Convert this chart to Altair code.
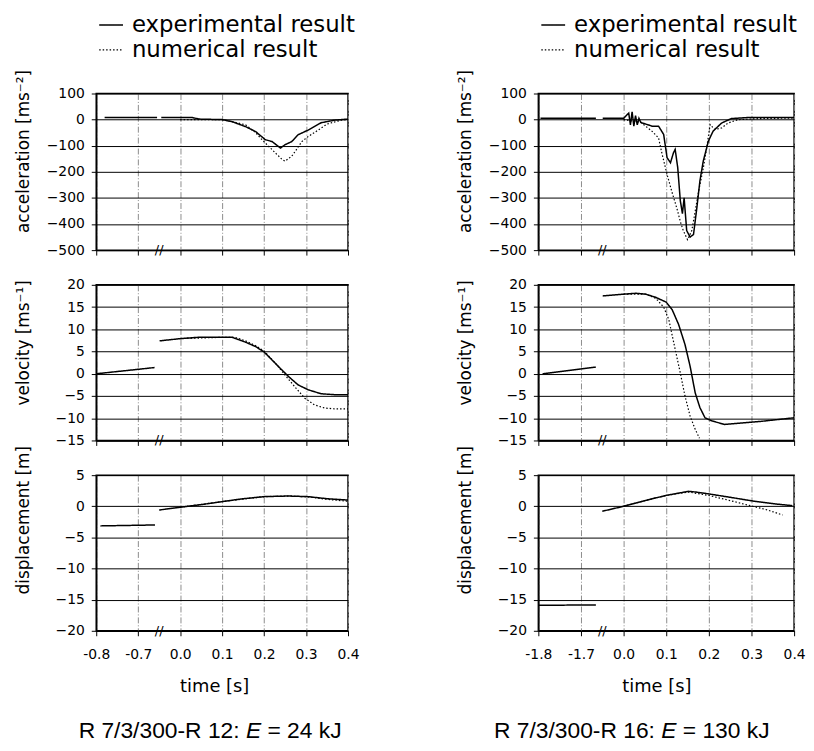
import json
import altair as alt
import pandas as pd

SERIES = ["experimental result", "numerical result"]
L_XLABELS = ["-0.8", "-0.7", "0.0", "0.1", "0.2", "0.3", "0.4"]
R_XLABELS = ["-1.8", "-1.7", "0.0", "0.1", "0.2", "0.3", "0.4"]
ACC_TICKS = [100, 0, -100, -200, -300, -400, -500]
VEL_TICKS = [20, 15, 10, 5, 0, -5, -10, -15]
DIS_TICKS = [5, 0, -5, -10, -15, -20]

# ---------------- R 7/3/300-R 12 (left column) ----------------
L_PRE_START = -0.8
# acceleration
L_ACC_EXP_PRE_T = [-0.78, -0.655]
L_ACC_EXP_PRE_V = [8, 8]
L_ACC_EXP_T = [-0.045, 0.0, 0.029, 0.045, 0.1, 0.124, 0.156, 0.18, 0.203, 0.219, 0.239,
               0.25, 0.266, 0.281, 0.305, 0.336, 0.368, 0.4]
L_ACC_EXP_V = [8, 8, 8, 2, 0, -8, -27, -46, -77, -84, -109, -96, -84, -58, -40, -12, -2, 2]
L_ACC_NUM_T = [0.0, 0.1, 0.13, 0.156, 0.18, 0.195, 0.219, 0.243, 0.25, 0.266, 0.277, 0.29,
               0.305, 0.329, 0.35, 0.384, 0.4]
L_ACC_NUM_V = [0, 0, -10, -20, -50, -77, -115, -153, -159, -140, -115, -84, -65, -40, -17, -2, 0]
# velocity
L_VEL_EXP_PRE_T = [-0.8, -0.73, -0.661]
L_VEL_EXP_PRE_V = [0.0, 0.7, 1.4]
L_VEL_EXP_T = [-0.049, 0.0, 0.043, 0.1, 0.124, 0.156, 0.18, 0.2, 0.222, 0.242, 0.258, 0.281,
               0.305, 0.336, 0.368, 0.4]
L_VEL_EXP_V = [7.4, 7.9, 8.2, 8.2, 8.2, 7.1, 6.1, 4.9, 2.8, 0.9, -0.6, -2.5, -3.6, -4.5, -4.7, -4.7]
L_VEL_NUM_T = [0.0, 0.1, 0.13, 0.156, 0.18, 0.2, 0.226, 0.25, 0.273, 0.297, 0.32, 0.344, 0.368, 0.4]
L_VEL_NUM_V = [7.9, 8.2, 8.2, 7.4, 6.3, 5.1, 2.5, -0.3, -2.9, -5.5, -7.0, -7.7, -7.9, -7.9]
# displacement
L_DIS_EXP_PRE_T = [-0.79, -0.66]
L_DIS_EXP_PRE_V = [-3.15, -3.0]
L_DIS_EXP_T = [-0.05, 0.0, 0.043, 0.1, 0.148, 0.2, 0.258, 0.305, 0.352, 0.4]
L_DIS_EXP_V = [-0.6, -0.15, 0.2, 0.75, 1.2, 1.55, 1.65, 1.55, 1.2, 1.0]
L_DIS_NUM_T = [0.0, 0.1, 0.2, 0.258, 0.305, 0.352, 0.4]
L_DIS_NUM_V = [-0.15, 0.75, 1.55, 1.65, 1.5, 1.1, 0.8]

# ---------------- R 7/3/300-R 16 (right column) ----------------
R_PRE_START = -1.8
R_ACC_EXP_PRE_T = [-1.795, -1.665]
R_ACC_EXP_PRE_V = [5, 5]
R_ACC_EXP_T = [-0.049, 0.0, 0.012, 0.016, 0.02, 0.024, 0.028, 0.032, 0.036, 0.04, 0.044, 0.067,
               0.082, 0.094, 0.102, 0.11, 0.117, 0.121, 0.127, 0.133, 0.138, 0.142, 0.148, 0.156,
               0.164, 0.172, 0.179, 0.187, 0.199, 0.21, 0.23, 0.253, 0.292, 0.4]
R_ACC_EXP_V = [5, 5, 25, -20, 30, -25, 15, -20, 5, -10, -13, -25, -25, -57, -146, -165, -127,
               -114, -184, -310, -360, -300, -425, -450, -440, -336, -235, -158, -82, -44, -13,
               4, 8, 8]
R_ACC_NUM_T = [0.0, 0.04, 0.067, 0.082, 0.09, 0.102, 0.113, 0.125, 0.133, 0.14, 0.15, 0.16,
               0.167, 0.176, 0.187, 0.195, 0.203, 0.214, 0.23, 0.245, 0.268, 0.32, 0.4]
R_ACC_NUM_V = [0, -10, -45, -70, -130, -210, -275, -340, -390, -425, -460, -425, -360, -275,
               -185, -108, -19, -38, -32, -13, 0, 4, 6]
R_VEL_EXP_PRE_T = [-1.79, -1.665]
R_VEL_EXP_PRE_V = [0.0, 1.5]
R_VEL_EXP_T = [-0.049, 0.0, 0.028, 0.052, 0.075, 0.1, 0.114, 0.129, 0.144, 0.156, 0.168, 0.179,
               0.191, 0.207, 0.237, 0.261, 0.323, 0.4]
R_VEL_EXP_V = [17.5, 17.9, 18.1, 17.9, 17.2, 16.1, 14.4, 11.1, 6.6, 1.7, -4.3, -7.6, -9.9,
               -10.6, -11.4, -11.2, -10.7, -9.9]
R_VEL_NUM_T = [0.0, 0.052, 0.075, 0.094, 0.106, 0.121, 0.133, 0.144, 0.156, 0.168, 0.178]
R_VEL_NUM_V = [17.9, 17.9, 17.0, 15.0, 12.2, 5.5, 0.2, -5.0, -9.5, -12.5, -14.5]
R_DIS_EXP_PRE_T = [-1.8, -1.665]
R_DIS_EXP_PRE_V = [-15.9, -15.85]
R_DIS_EXP_T = [-0.05, 0.0, 0.052, 0.1, 0.152, 0.168, 0.199, 0.245, 0.303, 0.353, 0.396]
R_DIS_EXP_V = [-0.8, 0.0, 0.95, 1.75, 2.4, 2.3, 2.0, 1.5, 0.85, 0.4, 0.1]
R_DIS_NUM_T = [0.0, 0.052, 0.1, 0.152, 0.199, 0.245, 0.303, 0.338, 0.373]
R_DIS_NUM_V = [0.0, 0.95, 1.75, 2.3, 1.75, 1.0, 0.0, -0.6, -1.4]

L_CAPTION = ["R 7/3/300-R 12:", "E", "= 24 kJ"]
R_CAPTION = ["R 7/3/300-R 16:", "E", "= 130 kJ"]

FONT = "DejaVu Sans"


def build_frame(pre_start, exp_pre_t, exp_pre_v, exp_t, exp_v, num_t, num_v):
    """Broken time axis: pre-impact part mapped to units 0-1.x, impact part to 2-6."""
    def pos(t):
        return (t - pre_start) * 10 if t < -0.5 else 2 + t * 10

    rows = []
    for seg, ser, ts, vs in [("exp_pre", SERIES[0], exp_pre_t, exp_pre_v),
                             ("exp", SERIES[0], exp_t, exp_v),
                             ("num", SERIES[1], num_t, num_v)]:
        for t, v in zip(ts, vs):
            rows.append({"pos": pos(t), "v": v, "series": ser, "seg": seg})
    return pd.DataFrame(rows)


def panel(df, yticks, ytitle, title_y, xlabels, width, height, bottom, legend, caption=None,
          cap_x=0):
    lo, hi = min(yticks), max(yticks)
    xaxis_kw = dict(values=list(range(7)), tickCount=7,
                    labelExpr=json.dumps(xlabels) + "[datum.value]",
                    labels=bottom, grid=True, gridColor="#8c8c8c", gridDash=[6, 2, 1, 2],
                    gridWidth=1, tickSize=5, tickColor="black", domainColor="black",
                    domainWidth=1.5, labelFont=FONT, labelFontSize=14, labelColor="black",
                    labelPadding=12, labelOverlap=False, labelFlush=False)
    if bottom:
        xaxis_kw.update(title="time [s]", titleFont=FONT, titleFontSize=18,
                        titleFontWeight="normal", titleColor="black", titleX=119, titleY=56,
                        titleBaseline="middle")
    else:
        xaxis_kw.update(title=None)
    yaxis = alt.Axis(values=yticks, tickCount=len(yticks), grid=True, gridColor="black",
                     gridWidth=1, tickSize=5,
                     tickColor="black", domainColor="black", domainWidth=1.5, labelFont=FONT,
                     labelFontSize=14, labelColor="black", labelPadding=7, labelOverlap=False,
                     labelFlush=False, title=ytitle,
                     titleFont=FONT, titleFontSize=17, titleFontWeight="normal",
                     titleColor="black", titleX=-73, titleY=title_y, titleBaseline="middle")
    dash_kw = dict(scale=alt.Scale(domain=SERIES, range=[[1, 0], [1.5, 2]]))
    if legend:
        dash_kw["legend"] = alt.Legend(orient="none", legendX=2, legendY=-82, title=None,
                                       labelFont=FONT, labelFontSize=23, labelColor="black",
                                       labelLimit=0, symbolType="stroke", symbolSize=576,
                                       symbolStrokeWidth=1.5, symbolStrokeColor="black",
                                       labelOffset=8, rowPadding=0, padding=0)
    else:
        dash_kw["legend"] = None
    lines = alt.Chart(df).mark_line(color="black", clip=True).encode(
        x=alt.X("pos:Q", scale=alt.Scale(domain=[0, 6], nice=False, zero=False),
                axis=alt.Axis(**xaxis_kw)),
        y=alt.Y("v:Q", scale=alt.Scale(domain=[lo, hi], nice=False, zero=False), axis=yaxis),
        strokeDash=alt.StrokeDash("series:N", **dash_kw),
        strokeWidth=alt.StrokeWidth("series:N",
                                    scale=alt.Scale(domain=SERIES, range=[1.5, 1.2]),
                                    legend=None),
        detail="seg:N",
    )
    brk = alt.Chart(pd.DataFrame({"mark": ["//"]})).mark_text(
        font=FONT, fontSize=13, color="black", baseline="middle"
    ).encode(x=alt.datum(1.5), y=alt.datum(lo), text="mark:N")
    layers = [lines, brk]
    if caption is not None:
        cap_y = 265
        parts = [
            (caption[0], "right", "normal", cap_x - 6.4),
            (caption[1], "left", "italic", cap_x),
            (caption[2], "left", "normal", cap_x + 15.3 + 6.4),
        ]
        for txt, align, style, xx in parts:
            layers.append(
                alt.Chart(pd.DataFrame({"cap": [txt]})).mark_text(
                    font="Liberation Sans", fontSize=23, color="black", align=align,
                    baseline="alphabetic", fontStyle=style
                ).encode(x=alt.value(xx), y=alt.value(cap_y), text="cap:N")
            )
    return alt.layer(*layers).properties(width=width, height=height)


l_acc = build_frame(L_PRE_START, L_ACC_EXP_PRE_T, L_ACC_EXP_PRE_V, L_ACC_EXP_T, L_ACC_EXP_V,
                    L_ACC_NUM_T, L_ACC_NUM_V)
l_vel = build_frame(L_PRE_START, L_VEL_EXP_PRE_T, L_VEL_EXP_PRE_V, L_VEL_EXP_T, L_VEL_EXP_V,
                    L_VEL_NUM_T, L_VEL_NUM_V)
l_dis = build_frame(L_PRE_START, L_DIS_EXP_PRE_T, L_DIS_EXP_PRE_V, L_DIS_EXP_T, L_DIS_EXP_V,
                    L_DIS_NUM_T, L_DIS_NUM_V)
r_acc = build_frame(R_PRE_START, R_ACC_EXP_PRE_T, R_ACC_EXP_PRE_V, R_ACC_EXP_T, R_ACC_EXP_V,
                    R_ACC_NUM_T, R_ACC_NUM_V)
r_vel = build_frame(R_PRE_START, R_VEL_EXP_PRE_T, R_VEL_EXP_PRE_V, R_VEL_EXP_T, R_VEL_EXP_V,
                    R_VEL_NUM_T, R_VEL_NUM_V)
r_dis = build_frame(R_PRE_START, R_DIS_EXP_PRE_T, R_DIS_EXP_PRE_V, R_DIS_EXP_T, R_DIS_EXP_V,
                    R_DIS_NUM_T, R_DIS_NUM_V)

ACC_T = "acceleration [ms⁻²]"
VEL_T = "velocity [ms⁻¹]"
DIS_T = "displacement [m]"

LW, RW = 254, 258
charts = [
    panel(l_acc, ACC_TICKS, ACC_T, 58, L_XLABELS, LW, 158, False, True),
    panel(r_acc, ACC_TICKS, ACC_T, 58, R_XLABELS, RW, 158, False, True),
    panel(l_vel, VEL_TICKS, VEL_T, 58, L_XLABELS, LW, 157, False, False),
    panel(r_vel, VEL_TICKS, VEL_T, 58, R_XLABELS, RW, 157, False, False),
    panel(l_dis, DIS_TICKS, DIS_T, 45, L_XLABELS, LW, 157, True, False, L_CAPTION, 151),
    panel(r_dis, DIS_TICKS, DIS_T, 45, R_XLABELS, RW, 157, True, False, R_CAPTION, 124),
]

chart = alt.concat(
    *charts, columns=2, spacing={"row": 35, "column": 192}, bounds="flush"
).resolve_scale(
    x="independent", y="independent", strokeDash="independent", strokeWidth="independent"
).resolve_legend(
    strokeDash="independent"
).configure_view(
    stroke="black", strokeWidth=1.5
).properties(
    padding={"left": 6, "top": 0, "right": 0, "bottom": 4}
)

chart.save("out.html", embed_options={"renderer": "svg", "actions": False})
